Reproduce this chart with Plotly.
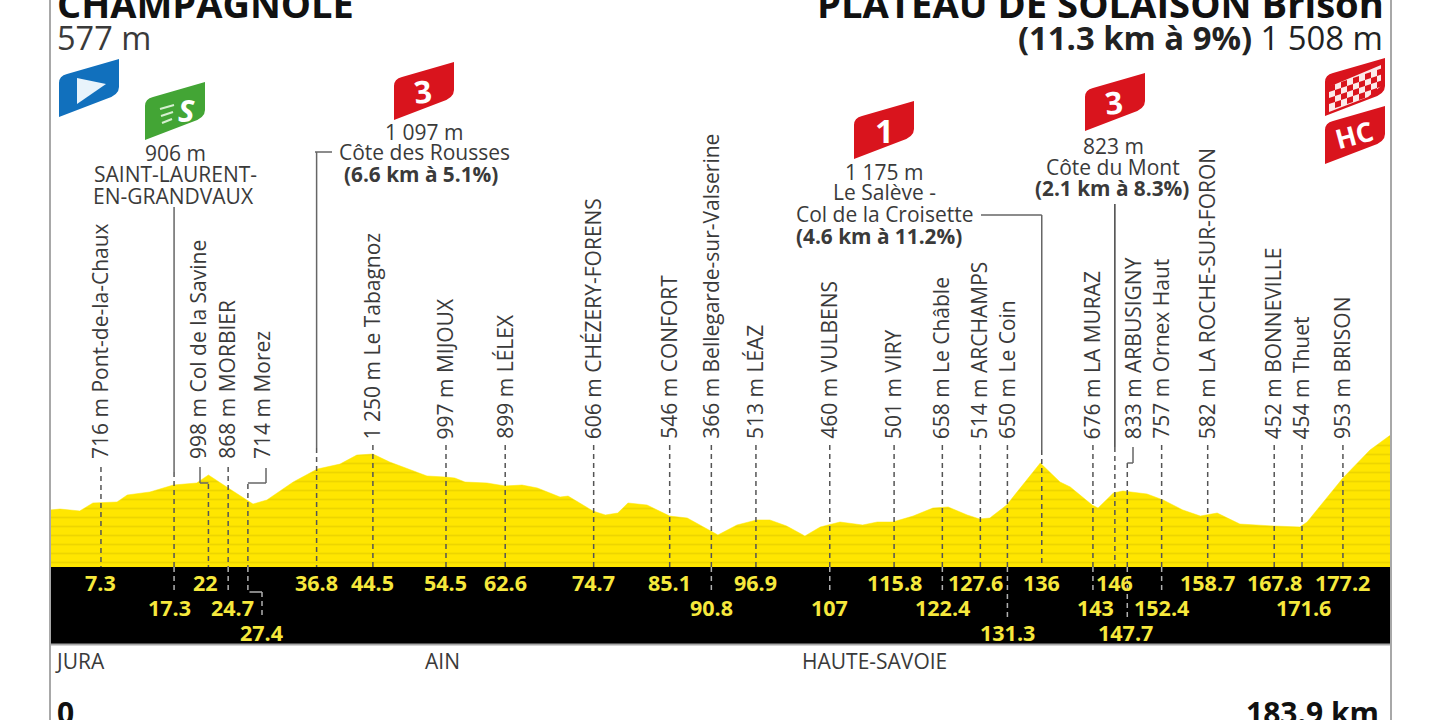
import plotly.graph_objects as go

# route profile
profile_km = [0.3, 1.7, 4.4, 6.2, 9.5, 10.9, 14.0, 17.2, 20.4, 22.0, 24.5, 27.4, 28.1, 30.0, 33.6, 36.9, 40.0, 42.3,
              44.5, 46.8, 51.9, 54.4, 55.7, 57.1, 60.1, 62.6, 64.9, 67.0, 70.1, 71.2, 72.8, 74.6, 76.3, 78.0, 79.4,
              82.0, 83.4, 85.1, 87.5, 90.6, 91.7, 94.3, 97.0, 98.8, 101.1, 103.6, 105.7, 108.4, 111.5, 113.5, 115.6,
              118.4, 121.1, 123.2, 125.8, 127.5, 128.9, 131.2, 135.8, 138.5, 139.9, 142.9, 143.7, 145.8, 147.1,
              150.4, 152.6, 155.3, 157.7, 160.0, 163.1, 167.7, 171.3, 172.3, 177.2, 180.9, 183.9]
profile_m = [577, 589, 565, 663, 675, 761, 798, 883, 908, 1006, 859, 687, 650, 700, 920, 1079, 1140, 1250,
             1263, 1165, 994, 981, 969, 920, 908, 871, 883, 847, 736, 748, 663, 565, 516, 540, 663,
             638, 577, 503, 479, 332, 271, 393, 455, 455, 381, 258, 369, 430, 393, 430, 430,
             503, 601, 614, 516, 467, 479, 638, 1153, 920, 859, 638, 601, 785, 810,
             773, 700, 577, 503, 540, 405, 381, 369, 430, 969, 1312, 1508]

# waypoints
wp_km = ["7.3", "22", "24.7", "27.4", "44.5", "54.5", "62.6", "74.7", "85.1", "90.8", "96.9", "107", "115.8",
         "122.4", "127.6", "131.3", "143", "147.7", "152.4", "158.7", "167.8", "171.6", "177.2"]
wp_alt = ["716", "998", "868", "714", "1 250", "997", "899", "606", "546", "366", "513", "460", "501",
          "658", "514", "650", "676", "833", "757", "582", "452", "454", "953"]
wp_name = ["Pont-de-la-Chaux", "Col de la Savine", "MORBIER", "Morez", "Le Tabagnoz", "MIJOUX", "LÉLEX",
           "CHÉZERY-FORENS", "CONFORT", "Bellegarde-sur-Valserine", "LÉAZ", "VULBENS", "VIRY",
           "Le Châble", "ARCHAMPS", "Le Coin", "LA MURAZ", "ARBUSIGNY", "Ornex Haut", "LA ROCHE-SUR-FORON",
           "BONNEVILLE", "Thuet", "BRISON"]
climb_km = ["17.3", "36.8", "136", "146"]

km_row1 = ["7.3", "22", "36.8", "44.5", "54.5", "62.6", "74.7", "85.1", "96.9", "115.8", "127.6", "136", "146",
           "158.7", "167.8", "177.2"]
km_row2 = ["17.3", "24.7", "90.8", "107", "122.4", "143", "152.4", "171.6"]
km_row3 = ["27.4", "131.3", "147.7"]

departments = ["JURA", "AIN", "HAUTE-SAVOIE"]
total_km = "183.9 km"

# page pixels <-> axes
X0, XS = 47.6, 7.31
Y577, YS = 510, 0.0816
BASE_M = 577 - (567 - Y577) / YS
FONT = "Open Sans"
DARK = "#3a3a3a"


def kx(km):
    return X0 + XS * float(km)


def px(x):
    return x / 1440


def py(y):
    return 1 - y / 720


fig = go.Figure()
fig.add_trace(go.Scatter(x=profile_km, y=[BASE_M] * len(profile_km), mode="lines", line=dict(width=0),
                         hoverinfo="skip", showlegend=False))
fig.add_trace(go.Scatter(x=profile_km, y=profile_m, mode="lines", line=dict(width=0.5, color="#ffe600"),
                         fill="tonexty", fillcolor="#ffe600",
                         fillpattern=dict(shape="-", size=9, solidity=0.2, fgcolor="#dcc400", bgcolor="#ffe600"),
                         hoverinfo="skip", showlegend=False))

shapes = []
annots = []


def line(x0, y0, x1, y1, color="#555555", width=1.5, dash=None):
    shapes.append(dict(type="line", xref="paper", yref="paper", x0=px(x0), x1=px(x1), y0=py(y0), y1=py(y1),
                       line=dict(color=color, width=width, dash=dash)))


def text(s, x, y, size=21, bold=False, anchor="center", color=DARK, angle=0):
    annots.append(dict(text=f"<b>{s}</b>" if bold else s, xref="paper", yref="paper", x=px(x), y=py(y),
                       xanchor=anchor, yanchor="middle", showarrow=False, align=anchor, textangle=angle,
                       font=dict(family=FONT, size=size, color=color)))


def poly(pts, color):
    d = "M" + " L".join(f"{px(a)},{py(b)}" for a, b in pts) + " Z"
    shapes.append(dict(type="path", xref="paper", yref="paper", path=d, fillcolor=color, line=dict(width=0)))


def badge(x, y, color):
    # x, y = lower left corner of the flag
    d = (f"M{px(x)},{py(y)} L{px(x)},{py(y - 34)} Q{px(x)},{py(y - 41)} {px(x + 8)},{py(y - 43)} "
         f"L{px(x + 60)},{py(y - 58)} L{px(x + 60)},{py(y - 30)} Q{px(x + 60)},{py(y - 22)} {px(x + 47)},{py(y - 18)} Z")
    shapes.append(dict(type="path", xref="paper", yref="paper", path=d, fillcolor=color, line=dict(width=0)))


# black km band and frame
shapes.append(dict(type="rect", xref="paper", yref="paper", x0=px(50), x1=px(1391), y0=py(644), y1=py(567),
                   fillcolor="black", line=dict(width=0)))
line(50, 0, 50, 720, "#a8a8a8", 2)
line(1391, 0, 1391, 720, "#a8a8a8", 2)
line(50, 644.5, 1391, 644.5, "#a8a8a8", 2)

# drop lines from the labels down to the km band
drop_top = {"7.3": 467, "22": 484, "24.7": 467, "27.4": 484, "17.3": 472, "36.8": 448, "136": 450, "146": 447,
            "147.7": 463}
for km in wp_km + climb_km:
    line(kx(km), drop_top.get(km, 445), kx(km), 567, dash="5px,4px")

for km in km_row2 + km_row3:
    if km == "171.6":
        continue
    line(kx(km), 567, kx(km), 592 if km in km_row2 or km == "27.4" else 617, "#b0b0b0", 1.5, "5px,4px")
line(249.5, 592, 262, 592, "#b0b0b0", 1.5)
line(262, 592, 262, 616, "#b0b0b0", 1.5, "5px,4px")

# solid leaders
line(315, 152, 332, 152, "#666666", 1.5)
line(kx(36.8), 152, kx(36.8), 448, "#666666", 1.5)
line(kx(17.3), 207, kx(17.3), 472, "#666666", 1.5)
line(981, 215, kx(136), 215, "#666666", 1.5)
line(kx(136), 215, kx(136), 450, "#666666", 1.5)
line(kx(146), 204, kx(146), 447, "#444444", 1.5)
# elbows for labels pushed aside
line(200, 467, 200, 483, "#666666", 1.5)
line(200, 483, kx(22), 483, "#666666", 1.5)
line(266, 468, 266, 483, "#666666", 1.5)
line(266, 483, kx(27.4), 483, "#666666", 1.5)
line(1133, 447, 1133, 463, "#666666", 1.5)
line(1133, 463, kx(147.7), 463, "#666666", 1.5)

# vertical waypoint labels
label_shift = {"22": -9, "24.7": 0, "27.4": 15, "147.7": 7}
for km, alt, name in zip(wp_km, wp_alt, wp_name):
    annots.append(dict(text=f"{alt} m {name}", xref="paper", yref="paper",
                       x=px(kx(km) - 1 + label_shift.get(km, 0)),
                       y=py(461 if km in ("7.3", "22", "24.7", "27.4") else 441),
                       xanchor="center", yanchor="bottom", textangle=-90, showarrow=False,
                       font=dict(family=FONT, size=21, color=DARK)))

# km numbers in the band
km_shift = {"17.3": -5, "22": -3, "24.7": 4, "27.4": 14, "127.6": -5, "143": 3, "147.7": -2, "171.6": 2}
for row_y, row in zip([582, 607, 632], [km_row1, km_row2, km_row3]):
    for km in row:
        text(km, kx(km) + km_shift.get(km, 0), row_y, 21.5, True, color="#f6e83c")

# header
text("CHAMPAGNOLE", 55, 3, 38, True, "left", "#111111")
text("577 m", 55, 37, 32.5, False, "left")
text("PLATEAU DE SOLAISON Brison", 1386, 3, 38.2, True, "right", "#111111")
annots.append(dict(text="<b>(11.3 km à 9%)</b> 1 508 m", xref="paper", yref="paper", x=px(1385), y=py(37),
                   xanchor="right", yanchor="middle", showarrow=False,
                   font=dict(family=FONT, size=32.8, color="#222222")))

# climb and sprint blocks
text("906 m", 175, 153)
text("SAINT-LAURENT-", 175, 174)
text("EN-GRANDVAUX", 173, 196)
text("1 097 m", 424, 132)
text("Côte des Rousses", 424, 152)
text("(6.6 km à 5.1%)", 421, 174, 20.8, True)
text("1 175 m", 884, 172)
text("Le Salève -", 884, 192)
text("Col de la Croisette", 884, 214)
text("(4.6 km à 11.2%)", 879, 236, 20.8, True)
text("823 m", 1113, 146)
text("Côte du Mont", 1113, 167)
text("(2.1 km à 8.3%)", 1112, 188, 20.8, True)

# departments and distances
text(departments[0], 53, 661, 21, False, "left")
text(departments[1], 423, 661, 21, False, "left")
text(departments[2], 800, 661, 21, False, "left")
text("0", 55, 712, 30, True, "left", "#111111")
text(total_km, 1381, 712, 30, True, "right", "#111111")

# flags
badge(59, 117, "#1170bd")
poly([(77, 78), (106, 84), (77, 104)], "#e8f3fb")
badge(145, 140, "#43a535")
text("<i>S</i>", 186, 110, 31, True, color="white")
for i, ly in enumerate([109, 116, 123]):
    line(160 + i, ly, 174 - i, ly - 4, "#d6efd0", 2)
badge(394, 120, "#d9141d")
text("3", 423, 91, 31, True, color="white", angle=-6)
badge(854, 159, "#d9141d")
text("1", 884, 130, 33, True, color="white")
badge(1085, 131, "#d9141d")
text("3", 1114, 102, 31, True, color="white", angle=-6)
badge(1325, 116, "#d9141d")
poly([(1329, 92), (1331, 86), (1381, 65), (1381, 86), (1368, 97), (1329, 112)], "#fbeaea")
for col in range(9):
    for row in range(4):
        if (col + row) % 2 == 0:
            cx = 1329 + col * 6
            cy = 86 + row * 6 - col * 2
            poly([(cx, cy), (cx + 6, cy - 2), (cx + 6, cy + 4), (cx, cy + 6)], "#d9141d")
badge(1325, 164, "#d9141d")
text("HC", 1354, 134, 27, True, color="white", angle=-15)

fig.update_layout(
    width=1440, height=720, margin=dict(l=0, r=0, t=0, b=0),
    paper_bgcolor="white", plot_bgcolor="white", showlegend=False,
    xaxis=dict(range=[-X0 / XS, (1440 - X0) / XS], visible=False, fixedrange=True),
    yaxis=dict(range=[577 - (720 - Y577) / YS, 577 + Y577 / YS], visible=False, fixedrange=True),
    shapes=shapes, annotations=annots,
)

fig.write_html("out.html", config={"displayModeBar": False}, post_script="document.body.style.margin='0';")
